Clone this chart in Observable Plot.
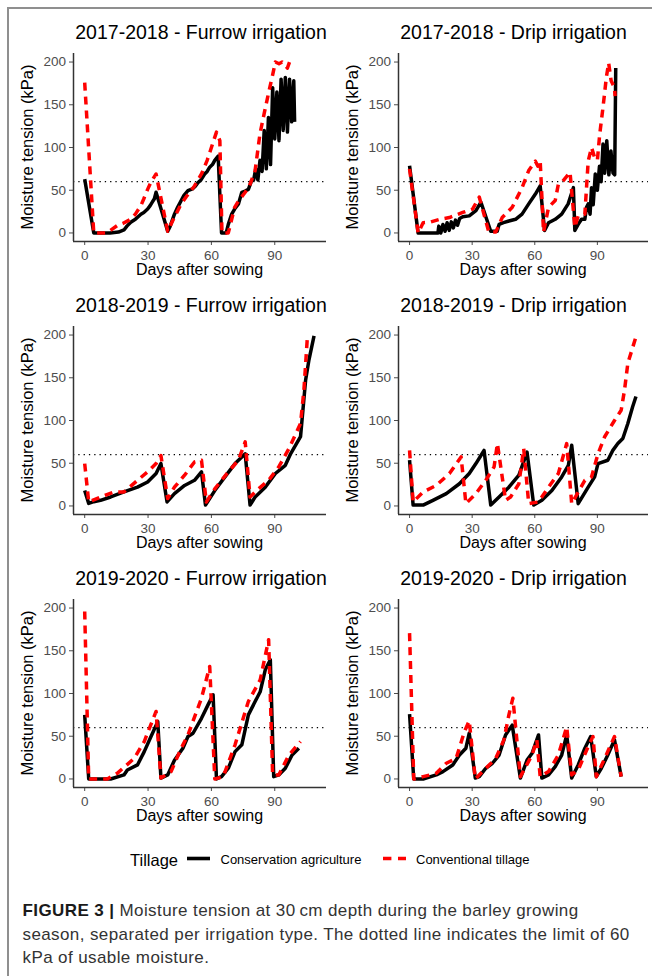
<!DOCTYPE html>
<html><head><meta charset="utf-8">
<script src="https://cdn.jsdelivr.net/npm/d3@7"></script>
<script src="https://cdn.jsdelivr.net/npm/@observablehq/plot@0.6"></script>
<style>
body{margin:0;background:#fff;}
#page{position:relative;width:652px;height:976px;overflow:hidden;font-family:"Liberation Sans",Arial,sans-serif;background:#fff;}
.abs{position:absolute;white-space:nowrap;line-height:1;}
.abs svg{display:block;}
</style></head><body><div id="page"></div>
<script>
// ---------- data ----------
const xTicks = [0, 30, 60, 90];
const yTicks = [0, 50, 100, 150, 200];
const threshold = 60;
const xLabel = "Days after sowing";
const yLabel = "Moisture tension (kPa)";
const legendTitle = "Tillage";
const seriesNames = ["Conservation agriculture", "Conventional tillage"];
const panelTitles = [
  "2017-2018 - Furrow irrigation", "2017-2018 - Drip irrigation",
  "2018-2019 - Furrow irrigation", "2018-2019 - Drip irrigation",
  "2019-2020 - Furrow irrigation", "2019-2020 - Drip irrigation"
];

// [day, kPa]
const furrow1718CA = [[0,63],[4.3,0],[12,0],[16,1],[18.6,3.5],[20,8],[21.8,12.5],[24,16],[26.6,22],[28,24],[29.8,28],[31,32],[32,36],[33,40],[33.8,47.6],[39.3,2],[40.5,8],[42.5,22],[44,30],[45.7,38],[47,44],[48.9,49.5],[51,51.5],[52.5,55],[53.7,59],[55,62],[56.8,69],[58,72],[59.2,77],[60.5,80],[61.6,85],[63.2,90],[64.8,0],[67,0],[68,10],[69.6,22],[71,28],[72.8,34],[74.4,47.6],[76,49],[77.5,51],[79,61],[80,62],[81,75],[82,62],[83,85],[84,72],[85,120],[86,75],[87,135],[88,80],[89,170],[90,110],[91,165],[92,108],[93,180],[94,120],[95,182],[96,118],[97,180],[98,130],[99,178],[99.4,130]];
const furrow1718CT = [[0,176],[4.3,0],[10,0],[12,2.7],[15.4,8.6],[18,11],[21.8,16],[24,22],[26.6,32],[28,40],[29.8,51],[31.5,60],[33.8,69],[39.3,2],[42,16],[45.7,34],[48,42],[52,55],[55.3,69],[58,85],[60,100],[62.4,118],[64,108],[65,0],[68,0],[71,30],[73,38],[76,47.6],[78,55],[80.7,73],[83,116],[85,140],[87,163],[89,185],[90.3,200],[92,198],[93.5,200],[95,196],[96,193],[97,200],[99.4,198]];

const drip1718CA = [[0,78.6],[4.1,0],[13.6,0],[14,8],[15,0],[16,10],[17,2],[18,12],[19,3],[20,13],[21,6],[22,15],[23,9],[24,17],[25.5,19],[28.6,20],[31.8,26],[34.2,36],[38.9,2],[42,2],[42.9,10],[45,12],[47.6,14],[50.8,16],[53.9,22],[57.1,34],[60.3,45.5],[62.6,55],[64.7,3],[66.6,12],[69.8,16],[72.9,22],[76,34],[78.5,53],[79.2,3],[80.8,10],[82.4,16],[84,16],[84.8,30],[85.6,34],[86.5,22],[87.2,53],[88,33],[89,69],[90,50],[91,78],[91.8,60],[92.7,104],[93.5,70],[94.5,108],[95.5,68],[96.5,96],[97.5,70],[98.3,68],[98.8,193]];
const drip1718CT = [[0,75],[4.1,0],[6.5,12],[9.6,12.5],[14.4,16],[19.1,18],[25.5,24],[30.2,28],[33.4,42],[38,1],[41.3,1],[44.4,18],[49.2,30],[53.9,53],[57.1,73],[60.3,84],[61.5,78],[62.6,84],[64.2,1],[66.6,30],[69.8,38],[71.3,57],[72.9,59],[76.9,71],[79.2,6.6],[80.8,20],[84,22],[85.6,84],[87.2,100],[88.7,88],[90,85],[91.1,115],[92.7,147],[94.3,182],[95.4,199],[96.6,178],[98.2,170],[98.5,160]];

const furrow1819CA = [[0,18],[1.9,3],[4.3,5],[7.5,6.6],[12.3,10.5],[18.6,16.4],[25,22],[29.8,28],[33.8,38],[36.1,49.6],[39,4.7],[42.5,14.5],[47.3,24],[52,30],[55.3,40],[57.2,1],[61.6,18],[66.4,34],[71.2,49.6],[76,61],[78.3,1],[80.7,10.5],[85.5,22],[90.3,38],[95,47.6],[97.5,61],[102.2,81],[104.6,147],[106.2,171],[108.6,199]];
const furrow1819CT = [[0,49.6],[1.9,4.7],[7.5,10.5],[13.9,16.4],[18.6,16.4],[25,30],[29.8,40],[33.8,49.6],[36.1,59],[39.3,8.6],[42.5,22],[47.3,36],[52,51.5],[55.3,53.5],[57.6,4.7],[61.6,20],[68,40],[72.8,53.5],[76,75],[78.3,10.5],[82.3,20],[87.1,30],[91.9,45.7],[96.7,67],[102.2,96.5],[103.8,135.5],[105.4,196],[106,198]];

const drip1819CA = [[0,53.5],[1.7,1],[6.5,1],[11.2,6.6],[17.6,14.5],[23.9,26],[28.6,38],[31.8,49.6],[34.2,59],[35.7,65],[38.9,1],[42.9,10.5],[47.6,22],[52.4,36],[56.3,63],[59.5,1],[63.4,6.6],[68.2,18],[72.9,34],[76.1,47.6],[77.7,71],[80.8,2.7],[85.6,22],[88.7,34],[90.3,49.6],[95,53.5],[97.4,65],[99.8,73],[102.2,79],[104.6,96.5],[106.9,116],[108.5,128]];
const drip1819CT = [[0,65],[1.7,4.7],[6.5,16.4],[12.8,24],[19.1,38],[24.7,57.4],[27,2.7],[31.8,14.5],[36.5,30],[40.5,45.7],[42.1,73],[46,6.6],[48.4,10.5],[52.4,26],[54.7,67],[57.1,2.7],[61.8,4.7],[66.6,22],[71.3,38],[75.3,73],[77.7,2.7],[84,30],[87.2,34],[90.3,61],[93.5,81],[98.2,100],[101.4,112],[103,135.5],[104.6,167],[108.5,198]];

const furrow1920CA = [[0,75],[1.9,0],[12.3,0],[18.6,4.7],[20.2,10.5],[25,16.4],[28.2,32],[31.4,49.6],[34.6,67],[36.1,1],[39.3,4.7],[42.5,22],[46.5,36],[48.9,49.6],[51.3,53.5],[55.3,71],[58.4,86.7],[60.8,98.4],[62.4,0],[64.8,2.7],[68,12.5],[71.2,32],[74.4,40],[77.5,75],[80.7,90.6],[83.1,102],[85.5,127.7],[87.9,139.5],[89.5,2.7],[91.9,4.7],[95,12.5],[98.2,28],[101.4,36]];
const furrow1920CT = [[0,196],[1.9,0],[10.7,0],[15.4,6.6],[23.4,24],[28.2,43.8],[33.8,79],[36.1,1],[40.9,8.6],[45.7,36],[48.9,51.5],[55.3,94.5],[59.2,131.6],[61.6,0],[65.6,2.7],[71.2,40],[77.5,90.6],[83.1,116],[87.1,163],[89,4.7],[91.9,4.7],[96.7,28],[102.2,43.8]];

const drip1920CA = [[0,75.8],[2,0],[6.5,0],[12.8,4.7],[16,8.6],[20.7,16.4],[23.9,28],[27,36],[28.6,53.5],[31.5,1],[33.4,2.7],[36.5,12.5],[39.7,18.4],[42.9,28],[46,51.5],[49.2,63],[53.1,1],[56.3,22],[58.7,30],[61.8,51.5],[63.4,1],[66.6,4.7],[69.8,14.5],[72.9,28],[75.3,51.5],[77.7,1],[80.8,16.4],[84,36],[86.8,49.6],[89.5,2.7],[91.9,12.5],[95,28],[98.2,45.7],[101.4,2.7]];
const drip1920CT = [[0,170.7],[2,0],[6.5,2.7],[12.8,6.6],[17.6,18.4],[22.3,24],[26.3,55.5],[28.6,68],[31.5,0],[35,8.6],[41.3,24],[45.2,45.7],[47.6,75],[49.5,94.5],[53.1,2.7],[58.7,28],[61,45.7],[62.6,2.7],[66.6,8.6],[71.3,28],[75.3,61],[77.7,4.7],[80.8,10.5],[85.6,38],[87.9,49.6],[89.5,2.7],[93.5,24],[98.2,49.6],[101.4,2.7]];

const panelSeries = [
  [furrow1718CA, furrow1718CT], [drip1718CA, drip1718CT],
  [furrow1819CA, furrow1819CT], [drip1819CA, drip1819CT],
  [furrow1920CA, furrow1920CT], [drip1920CA, drip1920CT]
];

const captionBold = "FIGURE 3 |";
const captionLines = [
  " Moisture tension at 30\u2009cm depth during the barley growing",
  "season, separated per irrigation type. The dotted line indicates the limit of 60",
  "kPa of usable moisture."
];

// ---------- layout ----------
const xDomain = [-5.3, 114.5];
const yDomain = [-10, 210];
const colors = ["#000000", "#ff0000"];
const page = document.getElementById("page");
const FONT = '"Liberation Sans", Arial, sans-serif';

function text(str, o) {
  const el = document.createElement("div");
  el.className = "abs";
  el.textContent = str;
  const F = o.size;
  el.style.fontSize = F + "px";
  el.style.color = o.color || "#000";
  if (o.weight) el.style.fontWeight = o.weight;
  if (o.spacing) el.style.letterSpacing = o.spacing + "px";
  if (o.rotate) {
    el.style.left = (o.baselineX - 0.3465 * F) + "px";
    el.style.top = o.centerY + "px";
    el.style.transform = "translate(-50%,-50%) rotate(-90deg)";
  } else {
    el.style.top = (o.baseline - 0.8465 * F) + "px";
    if (o.center != null) {
      el.style.left = o.center + "px";
      el.style.transform = "translateX(-50%)";
    } else el.style.left = o.left + "px";
  }
  page.appendChild(el);
  return el;
}

// frame border
function box(l, t, w, h, c) {
  const d = document.createElement("div");
  d.style.cssText = `position:absolute;left:${l}px;top:${t}px;width:${w}px;height:${h}px;background:${c};`;
  page.appendChild(d);
}
box(7, 7, 645, 2, "#8f8f8f");
box(7, 7, 2, 969, "#8f8f8f");

const rowH = 273;
const titleCenters = [201, 513.5];
panelTitles.forEach((title, i) => {
  const col = i % 2, row = Math.floor(i / 2);
  const left = col === 0 ? 0 : 325;
  const top = row * rowH;
  const W = col === 0 ? 326 : 327;
  const mr = col === 0 ? 0 : 4;
  const mL = 73;
  const [ca, ct] = panelSeries[i];

  text(title, {size: 19.5, center: titleCenters[col], baseline: top + 40});

  const svg = Plot.plot({
    width: W, height: 215,
    marginLeft: mL, marginRight: mr, marginTop: 7, marginBottom: 20,
    style: {fontFamily: FONT, fontSize: "13.5px", color: "#4d4d4d", background: "transparent", overflow: "visible"},
    x: {domain: xDomain, ticks: xTicks, tickSize: 4, tickPadding: 4.5, label: null},
    y: {domain: yDomain, ticks: yTicks, tickSize: 4, tickPadding: 3.5, label: null},
    marks: [
      Plot.ruleY([threshold], {stroke: "#000", strokeWidth: 1.3, strokeDasharray: "1.3,4"}),
      Plot.line(ca, {x: d => d[0], y: d => d[1], stroke: colors[0], strokeWidth: 3.5, strokeLinejoin: "round", strokeLinecap: "butt"}),
      Plot.line(ct, {x: d => d[0], y: d => d[1], stroke: colors[1], strokeWidth: 3.5, strokeDasharray: "8,6", strokeLinecap: "butt", strokeLinejoin: "round"}),
      Plot.ruleX([xDomain[0]], {stroke: "#333", strokeWidth: 1.5}),
      Plot.ruleY([yDomain[0]], {stroke: "#333", strokeWidth: 1.5})
    ]
  });
  const holder = document.createElement("div");
  holder.className = "abs";
  holder.style.left = left + "px";
  holder.style.top = (top + 46) + "px";
  holder.appendChild(svg);
  page.appendChild(holder);

  const plotCenter = left + mL + (W - mL - mr) / 2;
  text(xLabel, {size: 16, center: plotCenter, baseline: top + 276});
  text(yLabel, {size: 16.5, rotate: true, baselineX: left + 33, centerY: top + 53 + 94});
});

// legend
text(legendTitle, {size: 16.5, left: 130, baseline: 865.7});
function key(l, dash, color) {
  const h = document.createElement("div");
  h.className = "abs";
  h.style.left = l + "px";
  h.style.top = "853px";
  h.innerHTML = `<svg width="23" height="11"><line x1="0" x2="23" y1="5.5" y2="5.5" stroke="${color}" stroke-width="3.6" ${dash ? 'stroke-dasharray="8.4,6.6"' : ''}/></svg>`;
  page.appendChild(h);
}
key(187, false, colors[0]);
text(seriesNames[0], {size: 13, left: 220.5, baseline: 864.5});
key(383, true, colors[1]);
text(seriesNames[1], {size: 13, left: 416, baseline: 864.5});

// caption
const capStyle = {size: 17, left: 22.5, color: "#333", spacing: 0.4};
const c1 = text("", {...capStyle, baseline: 916});
c1.innerHTML = `<b style="color:#1a1a1a">${captionBold}</b>${captionLines[0]}`;
text(captionLines[1], {...capStyle, baseline: 940});
text(captionLines[2], {...capStyle, baseline: 963.5});
</script></body></html>
